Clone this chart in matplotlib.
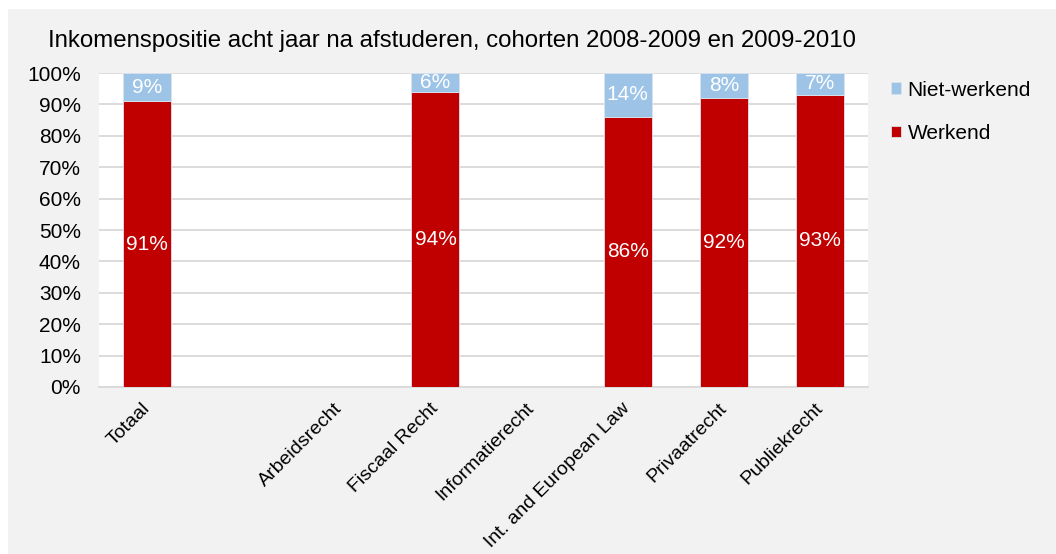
import numpy as np
import matplotlib.pyplot as plt
import matplotlib.transforms as mtransforms
from matplotlib.patches import Rectangle

plt.rcParams['font.family'] = ['Liberation Sans', 'DejaVu Sans']

# data (empty slot after Totaal, no data for Arbeidsrecht / Informatierecht)
categories = ['Totaal', '', 'Arbeidsrecht', 'Fiscaal Recht', 'Informatierecht',
              'Int. and European Law', 'Privaatrecht', 'Publiekrecht']
werkend = [91, np.nan, np.nan, 94, np.nan, 86, 92, 93]
niet_werkend = [9, np.nan, np.nan, 6, np.nan, 14, 8, 7]

red = '#c00000'
blue = '#9dc3e6'

W, H = 1056, 554
fig = plt.figure(figsize=(W / 100, H / 100), dpi=100)
fig.patch.set_facecolor('white')
# grey chart area
fig.patches.append(Rectangle((8 / W, 0), 1 - 8 / W, 1 - 9 / H, transform=fig.transFigure,
                             facecolor='#f2f2f2', edgecolor='none', zorder=-1))

ax = fig.add_axes([99 / W, (H - 387) / H, (868 - 99) / W, (387 - 73) / H])
ax.set_facecolor('white')

x = np.arange(len(categories))
w_vals = np.array(werkend, dtype=float)
n_vals = np.array(niet_werkend, dtype=float)
b1 = ax.bar(x, w_vals / 100, width=0.5, color=red, edgecolor='#dbe3ee', linewidth=0.6,
            label='Werkend', zorder=3)
b2 = ax.bar(x, n_vals / 100, bottom=w_vals / 100, width=0.5, color=blue,
            edgecolor='#dbe3ee', linewidth=0.6, label='Niet-werkend', zorder=3)

for i in range(len(categories)):
    if np.isnan(w_vals[i]):
        continue
    ax.text(x[i], w_vals[i] / 200, '%d%%' % w_vals[i], ha='center', va='center',
            color='white', fontsize=15, zorder=4)
    ax.text(x[i], (w_vals[i] + n_vals[i] / 2) / 100, '%d%%' % n_vals[i], ha='center',
            va='center', color='white', fontsize=15, zorder=4)

ax.set_xlim(-0.5, len(categories) - 0.5)
ax.set_ylim(0, 1)
ax.set_yticks(np.arange(0, 1.01, 0.1))
ax.set_yticklabels(['%d%%' % v for v in range(0, 101, 10)], fontsize=15)
ax.set_xticks(x)
ax.set_xticklabels(categories, rotation=45, ha='right', rotation_mode='anchor', fontsize=14)
ax.tick_params(axis='both', length=0, colors='#000000')
ax.tick_params(axis='x', pad=9)
ax.tick_params(axis='y', pad=13)
# nudge rotated labels a little to the left, like the original
shift = mtransforms.ScaledTranslation(-6 / 100, 0, fig.dpi_scale_trans)
for lbl in ax.get_xticklabels():
    lbl.set_transform(lbl.get_transform() + shift)
ax.grid(axis='y', color='#d9d9d9', linewidth=1.3, zorder=0)
for s in ['top', 'right', 'left']:
    ax.spines[s].set_visible(False)
ax.spines['bottom'].set_color('#d9d9d9')
ax.spines['bottom'].set_linewidth(1.3)

fig.text(452 / W, 1 - 41 / H, 'Inkomenspositie acht jaar na afstuderen, cohorten 2008-2009 en 2009-2010',
         ha='center', va='center', fontsize=17.3)

ax.legend(handles=[b2, b1], loc='upper left', bbox_to_anchor=(872 / W, 1 - 62 / H),
          bbox_transform=fig.transFigure, frameon=False, fontsize=15, handlelength=0.5,
          handleheight=0.5, handletextpad=0.3, labelspacing=1.16)

fig.savefig('out.png', dpi=100)
